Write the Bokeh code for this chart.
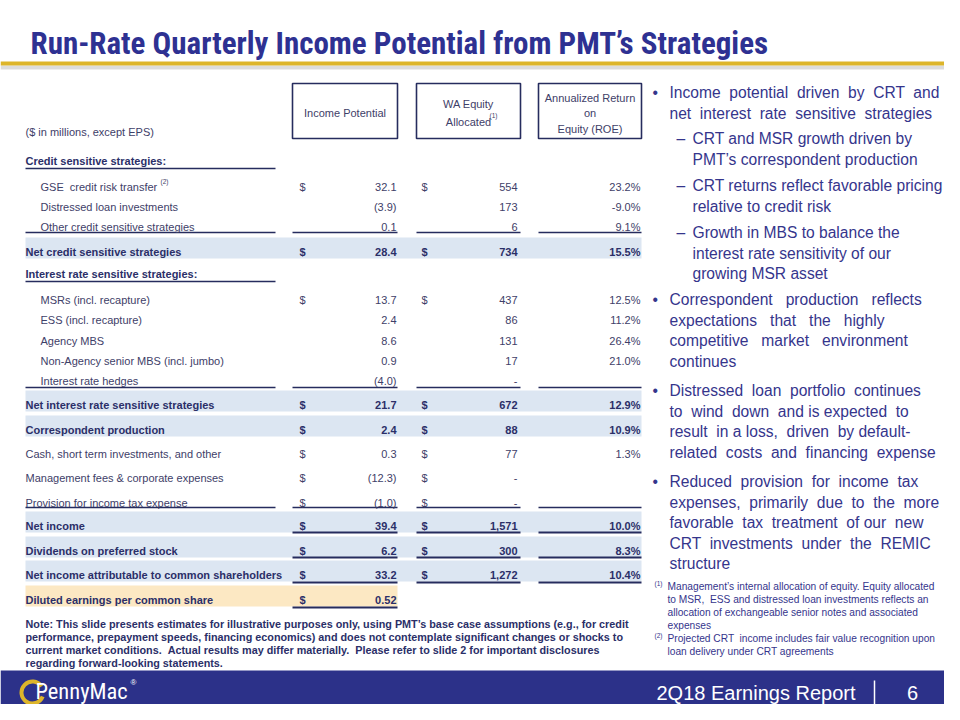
import re
from bokeh.plotting import figure
from bokeh.models import ColumnDataSource, Range1d
from bokeh.core.properties import value
from bokeh.embed import file_html
from bokeh.resources import INLINE

# ------------------------------------------------------------------ data
title = "Run-Rate Quarterly Income Potential from PMT\u2019s Strategies"
units_label = "($ in millions, except EPS)"
header_income = ["Income Potential"]
header_equity = ["WA Equity", "Allocated"]
header_roe = ["Annualized Return", "on", "Equity (ROE)"]

row_labels = [
    "Credit sensitive strategies:",
    "GSE  credit risk transfer",
    "Distressed loan investments",
    "Other credit sensitive strategies",
    "Net credit sensitive strategies",
    "Interest rate sensitive strategies:",
    "MSRs (incl. recapture)",
    "ESS (incl. recapture)",
    "Agency MBS",
    "Non-Agency senior MBS (incl. jumbo)",
    "Interest rate hedges",
    "Net interest rate sensitive strategies",
    "Correspondent production",
    "Cash, short term investments, and other",
    "Management fees & corporate expenses",
    "Provision for income tax expense",
    "Net income",
    "Dividends on preferred stock",
    "Net income attributable to common shareholders",
    "Diluted earnings per common share",
]
income_potential = [None, 32.1, -3.9, 0.1, 28.4, None, 13.7, 2.4, 8.6, 0.9, -4.0,
                    21.7, 2.4, 0.3, -12.3, -1.0, 39.4, 6.2, 33.2, 0.52]
equity_allocated = [None, 554, 173, 6, 734, None, 437, 86, 131, 17, 0,
                    672, 88, 77, 0, 0, 1571, 300, 1272, None]
annualized_roe = [None, 23.2, -9.0, 9.1, 15.5, None, 12.5, 11.2, 26.4, 21.0, None,
                  12.9, 10.9, 1.3, None, None, 10.0, 8.3, 10.4, None]

note_lines = [
    "Note: This slide presents estimates for illustrative purposes only, using PMT\u2019s base case assumptions (e.g., for credit",
    "performance, prepayment speeds, financing economics) and does not contemplate significant changes or shocks to",
    "current market conditions.  Actual results may differ materially.  Please refer to slide 2 for important disclosures",
    "regarding forward-looking statements.",
]

bullets = [
    (1, ["Income  potential  driven  by  CRT  and",
         "net  interest  rate  sensitive  strategies"]),
    (2, ["CRT and MSR growth driven by", "PMT\u2019s correspondent production"]),
    (2, ["CRT returns reflect favorable pricing", "relative to credit risk"]),
    (2, ["Growth in MBS to balance the", "interest rate sensitivity of our", "growing MSR asset"]),
    (1, ["Correspondent   production   reflects", "expectations   that   the   highly",
         "competitive   market   environment", "continues"]),
    (1, ["Distressed  loan  portfolio  continues", "to  wind  down  and is expected  to",
         "result  in a loss,  driven  by default-", "related  costs  and  financing  expense"]),
    (1, ["Reduced  provision  for  income  tax", "expenses,  primarily  due  to  the  more",
         "favorable  tax  treatment  of our  new", "CRT  investments  under  the  REMIC",
         "structure"]),
]

footnotes = [
    ("(1)", ["Management\u2019s internal allocation of equity. Equity allocated",
             "to MSR,  ESS and distressed loan investments reflects an",
             "allocation of exchangeable senior notes and associated",
             "expenses"]),
    ("(2)", ["Projected CRT  income includes fair value recognition upon",
             "loan delivery under CRT agreements"]),
]

footer_text = "2Q18 Earnings Report"
page_number = "6"
brand = "PennyMac"

# ------------------------------------------------------------------ layout / style
NAVY = "#2E3192"
TXT = "#3E4068"
TXTB = "#2B2F68"
LINE = "#262C5E"
BAND = "#DCE6F2"
GOLD_BAND = "#FCE8C3"
BULLET = "#35358C"
FOOTER = "#2C3189"
GOLD = "#DDB52A"
SANS = value("Liberation Sans")
NARROW = value("Roboto Condensed, Liberation Sans Narrow, Liberation Sans")

row_y = [160, 186, 206, 226, 251, 273, 299, 319, 340, 360, 380, 404, 429, 453,
         477, 502, 525, 550, 574, 599]
row_kind = ["section", "item", "item", "item", "net", "section", "item", "item", "item",
            "item", "item", "net", "net", "plain", "plain", "plain", "total", "total",
            "total", "eps"]
dollar_rows = [False, True, False, False, True, False, True, False, False, False, False,
               True, True, True, True, True, True, True, True, True]

LAB = (25, 275)
INC = (292, 397)
EQ = (416, 520)
ROE = (538, 641)

p = figure(width=944, height=704, x_range=Range1d(0, 944), y_range=Range1d(704, 0),
           output_backend="svg", toolbar_location=None,
           x_axis_location=None, y_axis_location=None, min_border=0,
           outline_line_color=None, background_fill_color="white",
           border_fill_color="white")
p.grid.grid_line_color = None


def spaced(s):
    return re.sub(r" {2,}", lambda m: " " + "\u00a0" * (len(m.group()) - 1), s)


def txt(xs, ys, texts, size, color, font=SANS, style="normal", align="left",
        baseline="middle"):
    src = ColumnDataSource(dict(x=list(xs), y=list(ys), t=[spaced(t) for t in texts]))
    p.text(x="x", y="y", text="t", source=src, text_font=font, text_font_size=size,
           text_color=color, text_font_style=style, text_align=align,
           text_baseline=baseline)


# title + rule
txt([30], [43], [title], "31px", NAVY, font=NARROW, style="bold")
p.quad(left=[0], right=[960], top=[65], bottom=[69], fill_color="#D3D3D3",
       line_color=None, fill_alpha=0.8)
p.quad(left=[0], right=[960], top=[61], bottom=[65], fill_color=GOLD, line_color=None)

# bands
bl, br, bt, bb, bc = [], [], [], [], []
for y, k in zip(row_y, row_kind):
    if k in ("net", "total"):
        bl.append(LAB[0]); br.append(ROE[1]); bc.append(BAND)
    elif k == "eps":
        bl.append(LAB[0]); br.append(INC[1]); bc.append(GOLD_BAND)
    else:
        continue
    bt.append(y - 14); bb.append(y + 7)
p.quad(left=bl, right=br, top=bt, bottom=bb, fill_color=bc, line_color=None)

# header boxes
for (x0, x1) in (INC, EQ, ROE):
    p.quad(left=[x0], right=[x1], top=[83], bottom=[138], fill_color="white",
           line_color=LINE, line_width=1.6)
cx = lambda c: (c[0] + c[1]) / 2
txt([cx(INC)], [112], header_income, "11px", TXT, align="center")
txt([cx(EQ)] * 2, [103, 121], header_equity, "11px", TXT, align="center")
txt([cx(EQ) + 21], [115], ["(1)"], "6.5px", TXT)
txt([cx(ROE)] * 3, [97, 112, 128], header_roe, "11px", TXT, align="center")
txt([25], [131], [units_label], "11px", TXT)

# underlines
thin = {168: [LAB], 281: [LAB], 232: [LAB, INC, EQ, ROE], 387: [LAB, INC, EQ, ROE],
        507: [LAB, INC, EQ, ROE]}
thick = {532: [INC, EQ, ROE], 557: [INC, EQ, ROE], 582: [INC, EQ, ROE], 607: [INC]}
for spec, w in ((thin, 1.3), (thick, 2.2)):
    x0s, x1s, ys = [], [], []
    for y, cols in spec.items():
        for c in cols:
            x0s.append(c[0]); x1s.append(c[1]); ys.append(y)
    p.segment(x0=x0s, y0=ys, x1=x1s, y1=ys, line_color=LINE, line_width=w)


def f_inc(v, eps):
    if v is None:
        return ""
    s = f"{abs(v):.2f}" if eps else f"{abs(v):.1f}"
    return f"({s})" if v < 0 else s


def f_eq(v):
    if v is None:
        return ""
    return "-" if v == 0 else f"{v:,}"


def f_roe(v):
    return "" if v is None else f"{v:.1f}%"


for bold in (False, True):
    idx = [i for i, k in enumerate(row_kind)
           if (k in ("section", "net", "total", "eps")) == bold]
    col = TXTB if bold else TXT
    style = "bold" if bold else "normal"
    size = "11px"
    ys = [row_y[i] for i in idx]
    txt([40 if row_kind[i] == "item" else 25 for i in idx], ys,
        [row_labels[i] for i in idx], size, col, style=style)
    txt([396] * len(idx), ys,
        [f_inc(income_potential[i], row_kind[i] == "eps") for i in idx], size, col,
        style=style, align="right")
    txt([517] * len(idx), ys, [f_eq(equity_allocated[i]) for i in idx], size, col,
        style=style, align="right")
    txt([640] * len(idx), ys, [f_roe(annualized_roe[i]) for i in idx], size, col,
        style=style, align="right")
    txt([299] * len(idx), ys, ["$" if dollar_rows[i] else "" for i in idx], size, col,
        style=style)
    txt([421] * len(idx), ys,
        ["$" if dollar_rows[i] and equity_allocated[i] is not None else "" for i in idx],
        size, col, style=style)

txt([160], [181], ["(2)"], "6.5px", TXT)

# note
txt([25] * len(note_lines), [623, 636, 649, 662], note_lines, "10.8px", TXTB,
    style="bold")

# bullets
para_y = [92, 138, 185, 232, 299, 390, 481]
mx, my, mt, tx, ty, tt = [], [], [], [], [], []
for (lvl, lines), y0 in zip(bullets, para_y):
    mx.append(652 if lvl == 1 else 676); my.append(y0)
    mt.append("\u2022" if lvl == 1 else "\u2013")
    for j, line in enumerate(lines):
        tx.append(669 if lvl == 1 else 692); ty.append(y0 + 20.6 * j); tt.append(line)
txt(mx, my, mt, "15.6px", BULLET)
txt(tx, ty, tt, "15.6px", BULLET)

# footnotes
fn_y = [586, 638]
for (mark, lines), y0 in zip(footnotes, fn_y):
    txt([654], [y0 - 3], [mark], "6.5px", BULLET)
    txt([667] * len(lines), [y0 + 12.9 * j for j in range(len(lines))], lines,
        "10.2px", BULLET)

# footer
p.quad(left=[0], right=[960], top=[670], bottom=[720], fill_color=FOOTER, line_color=None)
p.annular_wedge(x=[32], y=[692], inner_radius=9, outer_radius=13,
                inner_radius_units="screen", outer_radius_units="screen",
                start_angle=0.6, end_angle=5.9, fill_color=GOLD, line_color=None)
txt([35], [690], [brand], "22.5px", "white", font=NARROW)
txt([130], [682], ["\u00ae"], "8px", "white")
txt([855], [692], [footer_text], "20px", "white", align="right")
p.segment(x0=[874], y0=[680], x1=[874], y1=[704], line_color="white", line_width=1.5)
txt([912], [692], [page_number], "20px", "white", align="center")

open("out.html", "w").write(file_html(p, INLINE))
